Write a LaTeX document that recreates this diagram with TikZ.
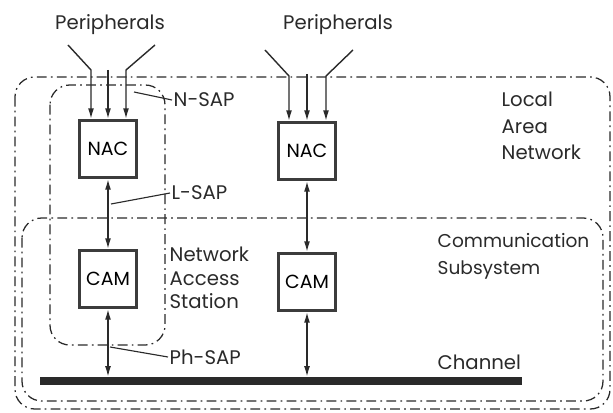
\documentclass[tikz,border=0pt]{standalone}
\usepackage{fontspec}
\setmainfont{Poppins}
\usepackage{xcolor}
\definecolor{Ink}{HTML}{2A2A2A}
\definecolor{BoxRim}{HTML}{3C3C3C}
\usepackage{tikz}
\usetikzlibrary{arrows.meta, positioning, calc}

\begin{document}
\begin{tikzpicture}[x=0.025cm, y=-0.025cm, >={Latex[length=7.5pt,width=4.2pt]},
  unit/.style={rectangle, draw=BoxRim, line width=2.4pt, fill=white,
               minimum width=1.42cm, minimum height=1.42cm, align=center,
               font=\fontsize{13.5}{16}\selectfont},
  bound/.style={draw=Ink, line width=0.9pt, rounded corners=14pt,
                dash pattern=on 7pt off 3pt on 1.2pt off 3pt},
  arr/.style={->, line width=1pt, color=Ink},
  darr/.style={<->, line width=1pt, color=Ink},
  lead/.style={line width=0.8pt, color=Ink},
  lbl/.style={font=\fontsize{14}{17}\selectfont, align=left, inner sep=1pt, text=Ink}
]
\useasboundingbox (0,0) rectangle (613,413);

%% ---- Boundaries (LAN, communication subsystem, access station) ----
\draw[bound] (15,77) rectangle (610,409);
\draw[bound] (22,218) rectangle (603,401);
\draw[bound] (50,85) rectangle (165,345);

%% ---- Units ----
\node[unit] (nacA) at (108,149) {NAC};
\node[unit] (camA) at (108,279) {CAM};
\node[unit] (nacB) at (307,151) {NAC};
\node[unit] (camB) at (307,282) {CAM};
\node[rectangle, fill=Ink, inner sep=0pt, minimum width=12.05cm,
      minimum height=0.2cm] (channel) at (281,381) {};

%% ---- Peripherals ----
\node[lbl, anchor=center] (perA) at (110,25) {Peripherals};
\node[lbl, anchor=center] (perB) at (338,25) {Peripherals};

\coordinate (pA1) at (68,45);  \coordinate (kA1) at (91,70);
\coordinate (kA2) at (108,70);
\coordinate (pA3) at (155,45); \coordinate (kA3) at (126,70);
\coordinate (pB1) at (265,50); \coordinate (kB1) at (289,76);
\coordinate (kB2) at (307,74);
\coordinate (pB3) at (353,50); \coordinate (kB3) at (326,76);

\draw[arr] (pA1) -- (kA1) -- (kA1 |- nacA.north);
\draw[arr] (kA2) -- (kA2 |- nacA.north);
\draw[arr] (pA3) -- (kA3) -- (kA3 |- nacA.north);
\draw[arr] (pB1) -- (kB1) -- (kB1 |- nacB.north);
\draw[arr] (kB2) -- (kB2 |- nacB.north);
\draw[arr] (pB3) -- (kB3) -- (kB3 |- nacB.north);

%% ---- Vertical links ----
\draw[darr] (nacA) -- (camA);
\draw[darr] (nacB) -- (camB);
\draw[darr] (camA) -- (camA |- channel.north);
\draw[darr] (camB) -- (camB |- channel.north);

%% ---- Access point labels ----
\node[lbl, anchor=west] (nsap) at (172,100) {N-SAP};
\node[lbl, anchor=west] (lsap) at (170,193) {L-SAP};
\node[lbl, anchor=west] (phsap) at (168,357) {Ph-SAP};
\coordinate (nsapT) at (134,92);
\coordinate (lsapT) at (111,204);
\coordinate (phsapT) at (110,347);
\draw[lead] (nsapT) -- (nsap.west);
\draw[lead] (lsapT) -- (lsap.west);
\draw[lead] (phsapT) -- (phsap.west);

%% ---- Region labels ----
\node[lbl, anchor=west, font=\fontsize{14}{16.5}\selectfont] (nas) at (168,278) {Network\\Access\\Station};
\node[lbl, anchor=west, font=\fontsize{14}{19}\selectfont] (lan) at (500,126) {Local\\Area\\Network};
\node[lbl, anchor=west, font=\fontsize{13.2}{19}\selectfont] (comm) at (436,256) {Communication\\Subsystem};
\node[lbl, anchor=west] (chan) at (436,362) {Channel};

\end{tikzpicture}
\end{document}
